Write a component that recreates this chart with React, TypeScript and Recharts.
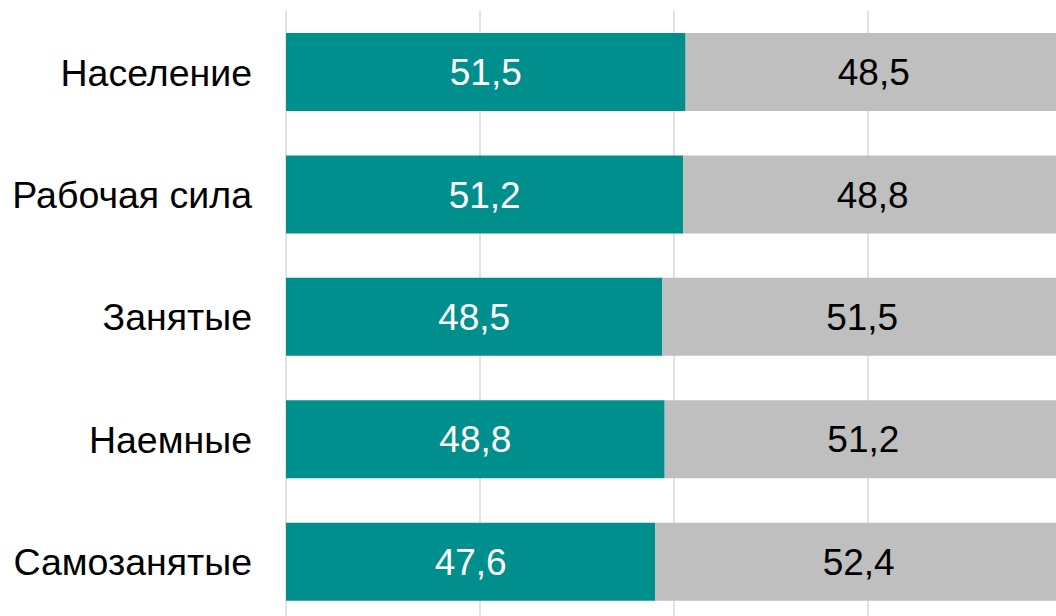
import React from 'react';
import { BarChart, Bar, XAxis, YAxis, CartesianGrid, LabelList } from 'recharts';

const categories = ['Население', 'Рабочая сила', 'Занятые', 'Наемные', 'Самозанятые'];
const firstShare = [51.5, 51.2, 48.5, 48.8, 47.6];
const secondShare = [48.5, 48.8, 51.5, 51.2, 52.4];
const xTicks = [0, 25, 50, 75, 100];

const data = categories.map((name, i) => ({ name, a: firstShare[i], b: secondShare[i] }));

const font = '"Liberation Sans", Arial, sans-serif';
const fmt = (v: number) => String(v).replace('.', ',');

export default function App() {
  return (
    <div style={{ position: 'absolute', left: 0, top: 0, width: 1056, height: 616, overflow: 'hidden', background: '#fff' }}>
      <BarChart
        width={1062}
        height={624}
        data={data}
        layout="vertical"
        margin={{ top: 11, right: 0, bottom: 1, left: 0 }}
        barCategoryGap="18%"
      >
        <CartesianGrid horizontal={false} stroke="#d9d9d9" strokeWidth={1.5} />
        <XAxis type="number" domain={[0, 100]} ticks={xTicks} hide />
        <YAxis
          type="category"
          dataKey="name"
          width={286}
          axisLine={false}
          tickLine={false}
          tickSize={0}
          tickMargin={34}
          tick={{ fill: '#000', fontSize: 37.5, fontFamily: font }}
        />
        <Bar dataKey="a" stackId="s" fill="#008f8c" isAnimationActive={false}>
          <LabelList dataKey="a" position="center" formatter={fmt} fill="#fff" fontSize={37} fontFamily={font} />
        </Bar>
        <Bar dataKey="b" stackId="s" fill="#bfbfbf" isAnimationActive={false}>
          <LabelList dataKey="b" position="center" formatter={fmt} fill="#000" fontSize={37} fontFamily={font} />
        </Bar>
      </BarChart>
    </div>
  );
}
